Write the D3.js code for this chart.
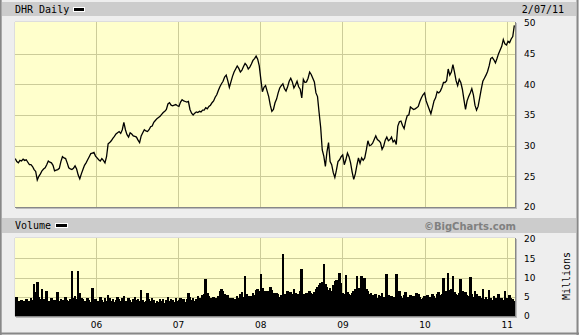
<!DOCTYPE html>
<html><head><meta charset="utf-8">
<script src="https://cdn.jsdelivr.net/npm/d3@7"></script>
<style>body{margin:0;background:#eeeeee;overflow:hidden}svg{display:block}</style>
</head><body>
<svg id="c" width="579" height="335"></svg>
<script>
const titleText = "DHR Daily";
const dateText = "2/07/11";
const volumeTitle = "Volume";
const creditText = "\u00A9BigCharts.com";
const unitText = "Millions";
const domainStart = "2005-01-06";
const domainEnd = "2011-02-07";
const firstWeek = "2005-01-07";
// weekly closes (split-adjusted $)
const closes = [
27.9,27.4,27.2,27.6,27.5,27.8,27.6,27.7,27.3,26.9,
26.9,26.6,26.1,25.8,24.4,25.0,25.4,25.9,26.2,26.4,
26.9,27.5,27.3,27.2,26.8,25.9,26.0,26.1,26.3,27.4,
28.2,28.0,27.9,27.2,26.4,26.2,26.1,26.3,26.7,26.2,
25.2,24.6,25.4,26.1,26.8,27.2,27.7,28.2,28.7,28.8,
28.9,28.3,28.0,27.7,27.5,27.9,27.6,27.2,28.2,30.3,
30.5,30.8,31.2,31.5,31.9,32.1,32.3,32.0,32.6,33.8,
32.6,31.8,31.4,32.1,31.9,31.6,31.5,31.4,30.9,30.5,
31.6,32.1,32.6,32.4,32.3,32.6,33.1,33.2,33.8,34.1,
34.4,34.6,34.8,35.1,35.4,35.6,35.9,36.8,37.0,36.6,
36.5,36.6,36.7,36.5,36.4,37.1,37.5,37.3,37.2,37.1,
37.2,35.9,35.3,35.0,35.3,35.5,35.4,35.6,35.5,35.8,
35.8,36.2,36.0,36.4,36.6,37.0,37.3,37.9,38.3,39.0,
39.6,40.1,40.5,41.2,41.5,40.6,39.5,40.4,41.3,42.0,
42.5,43.0,42.6,42.0,42.3,42.9,43.4,43.1,42.5,42.8,
43.3,43.9,44.2,44.6,44.1,43.0,40.8,38.8,39.5,39.8,
38.9,38.0,36.6,35.6,35.9,37.0,37.6,38.6,39.4,39.8,
40.1,39.3,38.9,39.6,40.5,41.0,40.4,39.4,39.9,40.5,
39.6,39.2,37.8,40.8,40.3,40.4,41.0,42.0,41.6,41.0,
40.4,38.6,38.0,35.4,33.0,29.3,28.3,26.6,29.0,30.5,
27.4,26.9,25.6,24.8,26.0,27.4,27.7,28.2,28.5,26.9,
27.7,28.8,28.2,27.2,25.7,24.5,25.4,26.8,28.0,27.1,
28.0,27.6,28.0,29.3,30.8,30.0,30.1,30.4,31.0,31.6,
31.0,30.8,30.5,29.4,29.9,30.9,31.4,30.8,31.0,31.4,
30.6,30.9,30.2,33.2,33.9,34.0,33.3,32.8,34.0,34.9,
35.0,36.3,36.1,35.9,36.0,36.2,36.4,37.2,37.8,38.3,
38.6,37.3,36.6,35.9,35.2,36.2,37.3,37.8,38.8,38.6,
38.9,39.5,40.3,40.3,40.6,42.5,41.5,42.0,43.2,42.0,
40.6,39.8,40.8,40.3,39.2,37.5,35.9,37.3,38.0,38.6,
39.3,38.3,36.6,35.8,36.4,37.8,39.2,40.5,41.0,41.5,
42.1,43.0,44.2,44.4,44.0,43.5,44.2,45.0,45.6,46.2,
47.3,46.6,46.4,47.0,46.8,47.4,47.8,49.6];
// weekly volume, millions of shares
const volumes = [
4.5,5.0,3.8,3.5,4.2,3.6,3.9,4.4,3.7,4.0,
4.8,4.2,8.3,6.2,8.8,5.0,4.5,7.0,4.3,4.1,
6.5,4.0,3.8,4.6,3.5,4.2,4.0,6.2,3.9,4.4,
4.1,3.6,5.0,4.2,3.8,4.5,11.7,4.6,5.2,4.3,
11.7,5.9,4.8,4.4,3.8,4.0,4.6,4.2,3.6,7.2,
3.5,4.4,3.4,3.8,5.0,4.2,3.7,4.6,4.0,5.5,
4.8,4.0,4.5,3.7,4.2,5.0,4.4,3.8,4.6,5.2,
4.0,3.8,4.6,4.2,3.6,4.4,5.0,4.1,4.5,3.9,
6.7,4.2,3.7,4.0,6.0,4.4,3.9,4.8,4.1,3.5,
4.0,3.6,4.3,3.8,4.5,3.4,4.2,4.9,3.9,4.4,
4.1,3.7,4.6,3.9,4.2,4.8,3.8,4.4,3.6,4.3,
6.0,5.0,4.2,4.7,3.9,4.4,5.2,4.6,4.1,5.4,
5.6,9.6,6.0,5.2,4.8,4.5,5.0,4.3,4.6,5.1,
6.5,7.0,6.6,5.8,4.9,5.4,4.6,4.2,4.8,4.4,
4.5,5.2,4.7,5.6,6.2,4.9,10.4,5.8,5.1,4.6,
5.3,6.0,5.5,6.8,7.0,6.5,10.9,7.2,6.0,6.6,
5.4,6.4,7.5,6.8,5.9,5.2,6.0,5.6,5.0,5.5,
16.2,5.8,5.4,6.5,5.0,6.2,5.6,7.0,6.0,5.5,
5.8,6.4,12.2,5.6,5.2,6.0,5.5,6.6,6.0,5.7,
6.2,7.0,7.6,8.0,8.6,8.8,13.5,8.4,7.5,6.8,
7.2,6.5,8.0,9.2,9.4,9.0,11.2,8.5,6.0,5.6,
10.6,6.2,5.8,5.4,6.0,6.6,7.0,10.4,7.2,6.8,
10.4,7.4,9.9,7.0,6.4,5.8,6.0,5.4,5.0,5.6,
4.8,5.5,5.2,6.0,5.0,4.6,10.9,5.4,4.8,5.2,
4.6,5.0,10.9,5.6,6.4,5.2,4.8,5.5,6.2,4.9,
5.0,5.4,4.6,5.2,4.8,6.0,5.6,5.0,4.5,4.8,
5.2,4.9,5.5,5.0,4.6,5.8,5.3,4.8,5.6,6.2,
5.4,5.8,9.9,6.0,6.4,11.2,6.8,7.0,10.4,6.2,
5.8,5.4,6.0,9.6,6.6,5.8,6.2,5.4,5.2,10.1,
5.6,5.0,6.4,5.8,4.8,5.2,4.6,7.0,4.5,5.0,
4.4,6.8,4.8,4.2,5.2,4.6,4.0,5.6,4.4,4.8,
4.2,6.5,4.6,4.0,5.4,4.8,4.4,4.0];
const priceTicks = [20,25,30,35,40,45,50];
const volumeTicks = [0,5,10,15,20];
const yearStarts = ["2006-01-01","2007-01-01","2008-01-01","2009-01-01","2010-01-01","2011-01-01"];
const yearLabels = ["06","07","08","09","10","11"];

const parse = d3.timeParse("%Y-%m-%d");
const svg = d3.select("#c");
const W = 579, H = 335;
const L = 15, R = 515;
const pTop = 22, pBot = 207, vTop = 238, vBot = 316;

const x = d3.scaleTime().domain([parse(domainStart), parse(domainEnd)]).range([L, R]);
const yP = d3.scaleLinear().domain([20, 50]).range([pBot, pTop + 1]);
const yV = d3.scaleLinear().domain([0, 20]).range([vBot, vTop + 1]);
const w0 = parse(firstWeek);
const weekDate = i => d3.timeDay.offset(w0, 7 * i);
const years = yearStarts.map(parse);

// background + frame
svg.append("rect").attr("width", W).attr("height", H).attr("fill", "#eeeeee");
svg.append("rect").attr("x", 2).attr("y", 2).attr("width", 574).attr("height", 14).attr("fill", "#cccccc");
svg.append("rect").attr("x", 2).attr("y", 218).attr("width", 574).attr("height", 15).attr("fill", "#cccccc");
svg.append("line").attr("x1", 0.5).attr("x2", 0.5).attr("y1", 0).attr("y2", H).attr("stroke", "#888").attr("stroke-width", 1);
svg.append("line").attr("x1", 1.5).attr("x2", 1.5).attr("y1", 0).attr("y2", H).attr("stroke", "#aaa").attr("stroke-width", 1);
svg.append("line").attr("x1", 577.5).attr("x2", 577.5).attr("y1", 0).attr("y2", H).attr("stroke", "#888").attr("stroke-width", 2);
svg.append("line").attr("x1", 0).attr("x2", W).attr("y1", 333.5).attr("y2", 333.5).attr("stroke", "#888").attr("stroke-width", 2);

const mono = "'DejaVu Sans Mono', monospace";
const sans = "'DejaVu Sans', sans-serif";

// header texts
svg.append("text").attr("x", 15).attr("y", 13).attr("font-family", mono).attr("font-size", 10).attr("fill", "#000").text(titleText);
svg.append("rect").attr("x", 73).attr("y", 7).attr("width", 12).attr("height", 5).attr("fill", "#fff");
svg.append("rect").attr("x", 74).attr("y", 8).attr("width", 10).attr("height", 3).attr("fill", "#000");
svg.append("text").attr("x", 564).attr("y", 13).attr("text-anchor", "end").attr("font-family", mono).attr("font-size", 10).attr("fill", "#000").text(dateText);

svg.append("text").attr("x", 15).attr("y", 229).attr("font-family", mono).attr("font-size", 10).attr("fill", "#000").text(volumeTitle);
svg.append("rect").attr("x", 55).attr("y", 223).attr("width", 13).attr("height", 5).attr("fill", "#fff");
svg.append("rect").attr("x", 56).attr("y", 224).attr("width", 11).attr("height", 3).attr("fill", "#000");
svg.append("text").attr("x", 516).attr("y", 229.5).attr("text-anchor", "end").attr("font-family", sans).attr("font-weight", "bold").attr("font-size", 10).attr("fill", "#808080").text(creditText);

function panel(top, bot, yScale, ticks) {
  const g = svg.append("g");
  g.append("rect").attr("x", L).attr("y", top).attr("width", R - L).attr("height", bot - top).attr("fill", "#ffffcc");
  g.selectAll(".hg").data(ticks.slice(1, -1)).join("line")
    .attr("x1", L).attr("x2", R).attr("y1", d => Math.round(yScale(d)) + 0.5).attr("y2", d => Math.round(yScale(d)) + 0.5)
    .attr("stroke", "#cccc99").attr("stroke-width", 1);
  g.selectAll(".vg").data(years).join("line")
    .attr("x1", d => Math.round(x(d)) + 0.5).attr("x2", d => Math.round(x(d)) + 0.5).attr("y1", top).attr("y2", bot)
    .attr("stroke", "#cccc99").attr("stroke-width", 1);
  return g;
}
function frame(top, bot) {
  svg.append("line").attr("x1", L - 0.5).attr("x2", L - 0.5).attr("y1", top).attr("y2", bot).attr("stroke", "#dddddd");
  svg.append("line").attr("x1", L).attr("x2", R).attr("y1", top - 0.5).attr("y2", top - 0.5).attr("stroke", "#dddddd");
  svg.append("line").attr("x1", R + 0.5).attr("x2", R + 0.5).attr("y1", top).attr("y2", bot + 1).attr("stroke", "#888");
  svg.append("line").attr("x1", L).attr("x2", R + 1).attr("y1", bot + 0.5).attr("y2", bot + 0.5).attr("stroke", "#888");
  svg.append("line").attr("x1", R + 1.5).attr("x2", R + 1.5).attr("y1", top + 1).attr("y2", bot + 2).attr("stroke", "#bbb");
  svg.append("line").attr("x1", L + 1).attr("x2", R + 2).attr("y1", bot + 1.5).attr("y2", bot + 1.5).attr("stroke", "#bbb");
}

// price panel
const gp = panel(pTop, pBot, yP, priceTicks);
svg.append("clipPath").attr("id", "cp").append("rect").attr("x", L).attr("y", pTop).attr("width", R - L).attr("height", pBot - pTop);
const line = d3.line().x((d, i) => x(weekDate(i))).y(d => yP(d)).curve(d3.curveLinear);
gp.append("path").datum(closes).attr("d", line).attr("fill", "none").attr("stroke", "#000").attr("stroke-width", 1.3).attr("stroke-linejoin", "miter").attr("clip-path", "url(#cp)");
frame(pTop, pBot);

// volume panel
const gv = panel(vTop, vBot, yV, volumeTicks);
gv.append("g").attr("shape-rendering", "crispEdges").selectAll("rect").data(volumes).join("rect")
  .attr("x", (d, i) => Math.floor(x(weekDate(i)) - 0.8))
  .attr("width", (d, i) => Math.max(1, Math.ceil(x(weekDate(i + 1)) - 0.8) - Math.floor(x(weekDate(i)) - 0.8)))
  .attr("y", d => Math.round(yV(d))).attr("height", d => vBot - Math.round(yV(d)))
  .attr("fill", "#000");
frame(vTop, vBot);

// axes
const axP = d3.axisRight(yP).tickValues(priceTicks).tickSize(0).tickPadding(9).tickFormat(d3.format("d"));
const ga = svg.append("g").attr("transform", `translate(${R},0)`).call(axP);
ga.select(".domain").remove();
ga.selectAll("text").attr("font-family", sans).attr("font-size", 9).attr("fill", "#000");

const axV = d3.axisRight(yV).tickValues(volumeTicks).tickSize(0).tickPadding(9).tickFormat(d3.format("d"));
const gav = svg.append("g").attr("transform", `translate(${R},0)`).call(axV);
gav.select(".domain").remove();
gav.selectAll("text").attr("font-family", sans).attr("font-size", 9).attr("fill", "#000");

const axX = d3.axisBottom(x).tickValues(years).tickSize(0).tickPadding(6).tickFormat((d, i) => yearLabels[i]);
const gx = svg.append("g").attr("transform", `translate(0,${vBot})`).call(axX);
gx.select(".domain").remove();
gx.selectAll("text").attr("font-family", sans).attr("font-size", 9).attr("fill", "#000");

svg.append("text").attr("transform", "translate(570,276) rotate(-90)").attr("text-anchor", "middle")
  .attr("font-family", mono).attr("font-size", 10).attr("fill", "#000").text(unitText);
</script>
</body></html>
